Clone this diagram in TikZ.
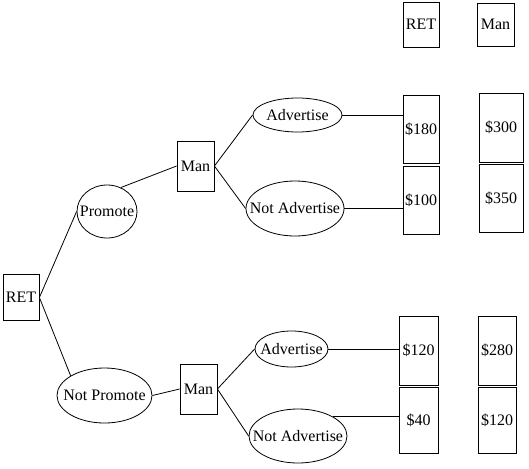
\documentclass[tikz,border=0pt]{standalone}
\usepackage{fontspec}
\setmainfont{Liberation Serif}
\usetikzlibrary{shapes.geometric}

\tikzset{
    box/.style={draw, rectangle, inner sep=0pt},
    choice/.style={draw, ellipse, inner sep=0pt},
}
\newcommand{\lbl}[1]{\makebox[0pt]{#1}}

\begin{document}
\begin{tikzpicture}[x=1pt, y=-1pt, line width=0.8pt, font=\fontsize{16}{19}\selectfont]
    \useasboundingbox (0,0) rectangle (529,468);

    % draw decision boxes
    \node[box, minimum width=36pt, minimum height=46pt] (ret) at (21,297.5) {RET};
    \node[box, minimum width=37pt, minimum height=50pt] (man1) at (195.5,166) {Man};
    \node[box, minimum width=37pt, minimum height=50pt] (man2) at (198.5,389) {Man};

    % draw choices
    \node[choice, minimum width=60pt, minimum height=53pt] (pro) at (107,211.5) {\lbl{Promote}};
    \node[choice, minimum width=95pt, minimum height=55pt] (npro) at (104.5,395.5) {\lbl{Not Promote}};
    \node[choice, minimum width=89pt, minimum height=34pt] (adv1) at (297.5,115) {\lbl{Advertise}};
    \node[choice, minimum width=98pt, minimum height=55pt] (nadv1) at (295,208.5) {\lbl{Not Advertise}};
    \node[choice, minimum width=73pt, minimum height=36pt] (adv2) at (291.5,349) {\lbl{Advertise}};
    \node[choice, minimum width=98pt, minimum height=54pt] (nadv2) at (298,436) {\lbl{Not Advertise}};

    % draw payoff headers
    \node[box, minimum width=36pt, minimum height=45pt] (hret) at (421,24.5) {RET};
    \node[box, minimum width=37pt, minimum height=43pt] (hman) at (495.5,24.5) {Man};

    % draw payoffs
    \node[box, minimum width=36pt, minimum height=68pt] (p1) at (421,129) {\$180};
    \node[box, minimum width=36pt, minimum height=68pt] (p2) at (421,200) {\$100};
    \node[box, minimum width=44pt, minimum height=69pt] (m1) at (501,127.5) {\$300};
    \node[box, minimum width=44pt, minimum height=68pt] (m2) at (501,198) {\$350};
    \node[box, minimum width=39pt, minimum height=69pt] (p3) at (418.5,350.5) {\$120};
    \node[box, minimum width=39pt, minimum height=66pt] (p4) at (418.5,420) {\$40};
    \node[box, minimum width=38pt, minimum height=69pt] (m3) at (497,350.5) {\$280};
    \node[box, minimum width=38pt, minimum height=66pt] (m4) at (497,420) {\$120};

    % draw branches
    \draw (ret.east) -- (pro.west);
    \draw (ret.east) -- (npro.north west);
    \draw (pro.60) -- (man1.west);
    \draw (npro.east) -- (man2.west);
    \draw (man1.east) -- (adv1.west);
    \draw (man1.east) -- (nadv1.west);
    \draw (man2.east) -- (adv2.west);
    \draw (man2.east) -- (nadv2.west);

    % draw lines to payoffs
    \draw (adv1.east) -- (adv1.east -| p1.west);
    \draw (nadv1.east) -- (nadv1.east -| p2.west);
    \draw (adv2.east) -- (adv2.east -| p3.west);
    \draw (nadv2.29) -- (nadv2.29 -| p4.west);
\end{tikzpicture}
\end{document}
